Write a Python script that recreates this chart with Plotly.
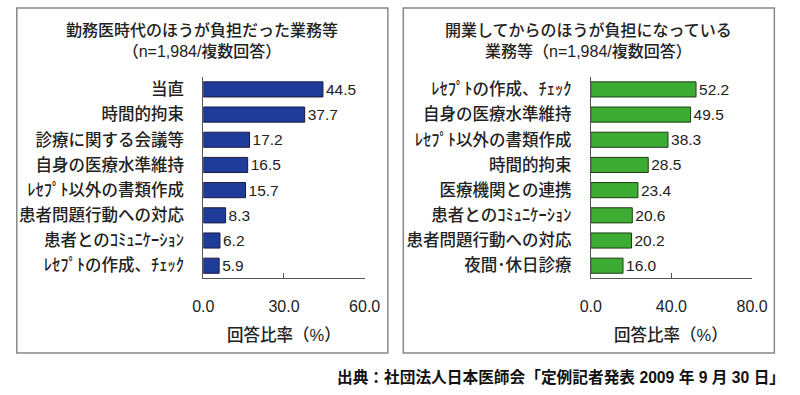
import plotly.graph_objects as go

left_categories = ["当直", "時間的拘束", "診療に関する会議等", "自身の医療水準維持",
                   "ﾚｾﾌﾟﾄ以外の書類作成", "患者問題行動への対応", "患者とのｺﾐｭﾆｹｰｼｮﾝ", "ﾚｾﾌﾟﾄの作成、ﾁｪｯｸ"]
left_values = [44.5, 37.7, 17.2, 16.5, 15.7, 8.3, 6.2, 5.9]

right_categories = ["ﾚｾﾌﾟﾄの作成、ﾁｪｯｸ", "自身の医療水準維持", "ﾚｾﾌﾟﾄ以外の書類作成", "時間的拘束",
                    "医療機関との連携", "患者とのｺﾐｭﾆｹｰｼｮﾝ", "患者問題行動への対応", "夜間･休日診療"]
right_values = [52.2, 49.5, 38.3, 28.5, 23.4, 20.6, 20.2, 16.0]

left_ticks = [0, 30, 60]
right_ticks = [0, 40, 80]

left_title = "勤務医時代のほうが負担だった業務等<br>（n=1,984/複数回答）"
right_title = "開業してからのほうが負担になっている<br>業務等（n=1,984/複数回答）"
axis_title = "回答比率（%）"
source = "出典：社団法人日本医師会「定例記者発表 2009 年 9 月 30 日」"

FONT = "Liberation Sans, Arial, Noto Sans CJK JP, sans-serif"
CJK = "Noto Sans CJK JP, Liberation Sans, sans-serif"
W, H = 800, 395

fig = go.Figure()
fig.add_trace(go.Bar(
    x=left_values, y=left_categories, orientation="h",
    marker=dict(color="#203c9a", line=dict(color="#1a1a40", width=1)),
    text=left_values, texttemplate="%{x:.1f}", textposition="outside", constraintext="none",
    textfont=dict(family=FONT, size=15.5, color="#222"), cliponaxis=False,
    xaxis="x", yaxis="y", width=0.6))
fig.add_trace(go.Bar(
    x=right_values, y=right_categories, orientation="h",
    marker=dict(color="#3dac32", line=dict(color="#1f3d14", width=1)),
    text=right_values, texttemplate="%{x:.1f}", textposition="outside", constraintext="none",
    textfont=dict(family=FONT, size=15.5, color="#222"), cliponaxis=False,
    xaxis="x2", yaxis="y2", width=0.6))

ydom = [1 - 278 / H, 1 - 76 / H]
common_x = dict(showline=True, linecolor="#555", linewidth=1, ticks="inside", ticklen=5,
                tickcolor="#555", showgrid=False, zeroline=False, tickformat=".1f",
                tickfont=dict(family=FONT, size=16, color="#222"), ticklabelstandoff=14)
common_y = dict(showline=True, linecolor="#555", linewidth=1, ticks="", showgrid=False,
                autorange="reversed", tickfont=dict(family=CJK, size=16.5, color="#222", weight=500),
                ticklabelstandoff=15)

fig.update_layout(
    width=W, height=H, margin=dict(l=0, r=0, t=0, b=0),
    paper_bgcolor="white", plot_bgcolor="white", showlegend=False,
    xaxis=dict(domain=[199 / W, 366 / W], range=[0, 60], tickvals=left_ticks, anchor="y", **common_x),
    yaxis=dict(domain=ydom, anchor="x", **common_y),
    xaxis2=dict(domain=[600 / W, 767 / W], range=[0, 80], tickvals=right_ticks, anchor="y2", **common_x),
    yaxis2=dict(domain=ydom, anchor="x2", **common_y),
)

# panel borders
for x0, x1 in [(6, 390), (406, 790)]:
    fig.add_shape(type="rect", xref="paper", yref="paper",
                  x0=x0 / W, x1=x1 / W, y0=1 - 353 / H, y1=1 - 7 / H,
                  line=dict(color="#888", width=1.5), fillcolor="rgba(0,0,0,0)")

# titles
fig.add_annotation(text=left_title, xref="paper", yref="paper", x=198 / W, y=1 - 40 / H,
                   xanchor="center", yanchor="middle",
                   showarrow=False, font=dict(family=FONT, size=16, color="#222", weight=500))
fig.add_annotation(text=right_title, xref="paper", yref="paper", x=598 / W, y=1 - 40 / H,
                   xanchor="center", yanchor="middle",
                   showarrow=False, font=dict(family=FONT, size=16, color="#222", weight=500))
# axis titles
for xc in [(199 + 366) / 2, (600 + 767) / 2]:
    fig.add_annotation(text=axis_title, xref="paper", yref="paper", x=xc / W, y=1 - 334 / H,
                       xanchor="center", yanchor="middle",
                       showarrow=False, font=dict(family=FONT, size=16.5, color="#222", weight=500))
# source
fig.add_annotation(text="<b>" + source + "</b>", xref="paper", yref="paper", x=803 / W, y=1 - 377 / H,
                   xanchor="right", yanchor="middle", showarrow=False,
                   font=dict(family=FONT, size=15.7, color="#111"))

fig.write_html("out.html", config={"displayModeBar": False},
               post_script="document.body.style.margin='0';")
